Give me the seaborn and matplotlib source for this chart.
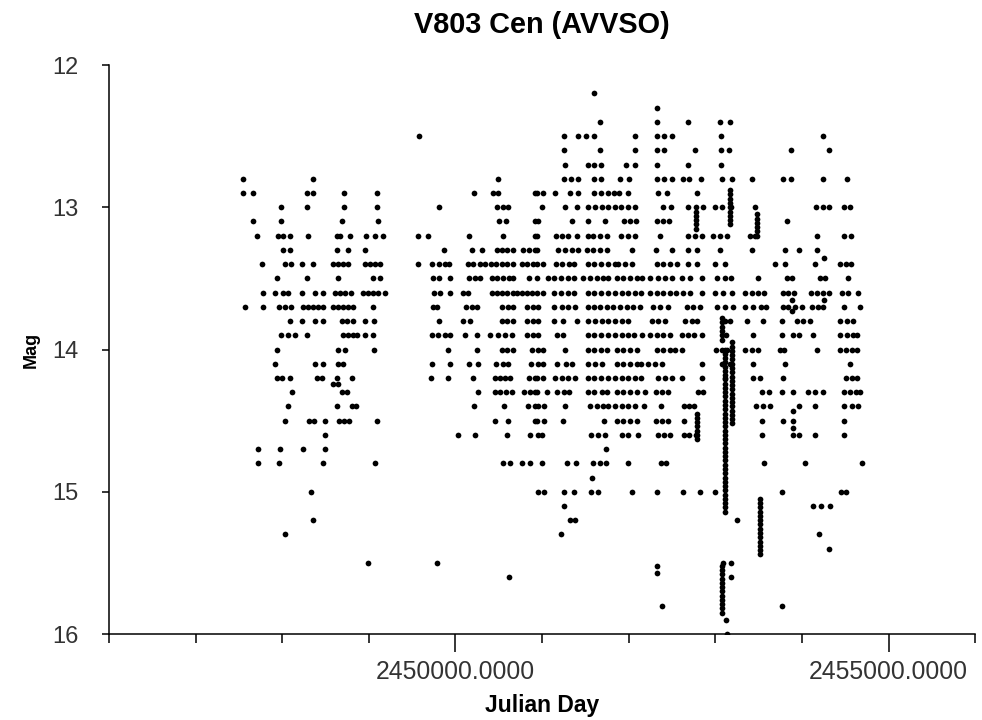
import matplotlib
matplotlib.use("Agg")
import matplotlib.pyplot as plt
from matplotlib.ticker import FixedLocator, MultipleLocator, FuncFormatter
import pandas as pd
import seaborn as sns

# Observation times are kept as reduced Julian Day (JD - 2400000).
RJD_ZERO = 2400000

# Visual estimates, grouped by the reported magnitude (0.1 mag steps).
jd_12_2 = [51600]
jd_12_3 = [52328]
jd_12_4 = [51670, 52328, 52685, 53055, 53171]
jd_12_5 = [49580, 51254, 51415, 51508, 51600, 52074, 52328, 52408, 52501, 53067, 54245]
jd_12_6 = [51254, 51670, 52074, 52328, 52408, 52767, 53067, 53159, 53876, 54314]
jd_12_7 = [51266, 51531, 51600, 51682, 51970, 52074, 52328, 52685, 53067]
jd_12_8 = [47548, 48356, 50491, 51254, 51335, 51415, 51600, 51682, 51901, 52005, 52328, 52408,
           52501, 52628, 52697, 52836, 53078, 53194, 53425, 53783, 53876, 54245, 54522]
jd_12_9 = [47548, 47663, 48286, 48356, 48713, 49095, 50214, 50434, 50491, 50919, 50942, 51012,
           51150, 51323, 51415, 51600, 51682, 51762, 51831, 51889, 51993, 52339, 52443, 52790]
jd_13_0 = [47987, 48286, 48713, 49095, 49811, 50480, 50550, 50607, 51000, 51266, 51404, 51531,
           51612, 51693, 51762, 51843, 51913, 51993, 52074, 52397, 52490, 52685, 52859, 52998,
           53078, 53183, 53460, 54163, 54245, 54314, 54487, 54556]
jd_13_1 = [47663, 47987, 48690, 49106, 50503, 50584, 50919, 50953, 51346, 51531, 51728, 51947,
           52016, 52085, 52328, 52397, 52466, 53829]
jd_13_2 = [47709, 47951, 48010, 48090, 48297, 48633, 48667, 48783, 48967, 49072, 49164, 49568,
           49683, 50157, 50550, 50919, 50942, 51161, 51231, 51300, 51404, 51531, 51589, 51670,
           51751, 51913, 51993, 52074, 52362, 52685, 52767, 52847, 52975, 53055, 53136, 53402,
           53460, 54175, 54487, 54568]
jd_13_3 = [48010, 48090, 48633, 48759, 48956, 49868, 50191, 50307, 50480, 50538, 50596, 50665,
           50781, 50850, 50919, 50942, 51184, 51266, 51346, 51415, 51520, 51589, 51670, 51751,
           52039, 52316, 52501, 52685, 52790, 53055, 53425, 53806, 53968, 54175]
jd_13_4 = [47767, 48033, 48102, 48228, 48356, 48587, 48644, 48702, 48759, 48956, 49014, 49072,
           49129, 49568, 49730, 49811, 49880, 49926, 50145, 50203, 50284, 50342, 50411, 50468,
           50538, 50596, 50665, 50769, 50827, 50896, 50942, 51012, 51161, 51231, 51312, 51369,
           51531, 51600, 51682, 51762, 51843, 51877, 51959, 52039, 52328, 52397, 52478, 52559,
           52685, 52790, 52998, 53113, 53691, 53806, 54152, 54441, 54510, 54568]
jd_13_5 = [47940, 48286, 48644, 49049, 49129, 49742, 49811, 49938, 50157, 50226, 50284, 50422,
           50480, 50550, 50619, 50665, 50850, 50942, 51069, 51138, 51220, 51300, 51369, 51474,
           51554, 51635, 51705, 51762, 51866, 51936, 52016, 52097, 52154, 52247, 52339, 52420,
           52501, 52616, 52709, 52847, 53021, 53113, 53183, 53494, 53829, 53887, 54210, 54268,
           54533]
jd_13_6 = [47779, 47917, 48010, 48067, 48228, 48379, 48471, 48610, 48667, 48725, 48795, 48933,
           48990, 49049, 49106, 49187, 49753, 49822, 49938, 50088, 50145, 50422, 50480, 50538,
           50596, 50665, 50711, 50769, 50827, 50884, 50942, 51012, 51138, 51220, 51300, 51369,
           51531, 51600, 51682, 51762, 51843, 51924, 51993, 52074, 52143, 52247, 52328, 52397,
           52478, 52547, 52628, 52709, 52847, 52998, 53090, 53194, 53344, 53425, 53494, 53563,
           53783, 53840, 53910, 54106, 54175, 54245, 54314, 54464, 54533, 54648]
jd_13_7 = [47571, 47779, 47963, 48033, 48102, 48240, 48297, 48356, 48413, 48471, 48587, 48644,
           48702, 48759, 48818, 49049, 49742, 49788, 50122, 50191, 50249, 50538, 50607, 50665,
           50827, 50896, 50953, 51138, 51231, 51300, 51381, 51531, 51600, 51670, 51751, 51820,
           51901, 51982, 52051, 52131, 52282, 52362, 52454, 52674, 52744, 52824, 53021, 53113,
           53206, 53344, 53437, 53529, 53586, 53783, 53840, 53922, 54002, 54117, 54186, 54245,
           54487, 54672]
jd_13_8 = [48090, 48228, 48379, 48471, 48690, 48748, 48818, 48956, 49060, 49811, 50088, 50168,
           50538, 50596, 50665, 50827, 50896, 50953, 51138, 51243, 51404, 51531, 51612, 51693,
           51762, 51843, 51924, 51993, 52270, 52339, 52420, 52651, 52732, 52790, 53113, 53171,
           53367, 53552, 53771, 53945, 54014, 54094, 54441, 54522, 54591]
jd_13_9 = [47987, 48067, 48148, 48286, 48702, 48759, 48818, 48864, 48956, 49049, 49730, 49799,
           49880, 49938, 50111, 50249, 50399, 50491, 50573, 50653, 50827, 50896, 50953, 51173,
           51243, 51531, 51600, 51682, 51762, 51843, 51924, 51993, 52062, 52154, 52247, 52328,
           52397, 52478, 52616, 52685, 52755, 52847, 53124, 53437, 53771, 53899, 53968, 54129,
           54441, 54522, 54591, 54637]
jd_14_0 = [47940, 48644, 48725, 49060, 49914, 50249, 50538, 50596, 50665, 50884, 50953, 51012,
           51266, 51531, 51600, 51682, 51751, 51866, 51936, 52016, 52097, 52328, 52397, 52478,
           52536, 52616, 53009, 53078, 53136, 53344, 53425, 53494, 53748, 53794, 54175, 54441,
           54510, 54579, 54637]
jd_14_1 = [47917, 48379, 48471, 48644, 48702, 49730, 49938, 50157, 50260, 50468, 50550, 50607,
           50873, 50953, 51012, 51173, 51277, 51346, 51531, 51612, 51693, 51866, 51936, 52016,
           52097, 52143, 52223, 52305, 52385, 52847, 53078, 53171, 53437, 53806, 54556]
jd_14_2 = [47940, 47998, 48090, 48402, 48459, 48633, 48806, 49719, 49914, 50203, 50457, 50515,
           50573, 50630, 50850, 50919, 50942, 51012, 51150, 51231, 51300, 51381, 51531, 51600,
           51682, 51762, 51843, 51924, 51993, 52074, 52143, 52339, 52420, 52501, 52616, 52847,
           53113, 53437, 53517, 53783, 54510, 54579, 54637]
jd_14_3 = [48113, 48690, 48748, 50260, 50457, 50515, 50584, 50653, 50792, 50861, 50919, 50942,
           51058, 51173, 51254, 51312, 51531, 51600, 51693, 51751, 51866, 51936, 52016, 52097,
           52189, 52316, 52385, 52454, 52801, 52859, 53540, 53621, 53771, 53899, 54071, 54152,
           54245, 54487, 54556, 54625, 54672]
jd_14_4 = [48067, 48633, 48806, 48852, 50214, 50561, 50838, 50919, 50953, 51023, 51266, 51554,
           51635, 51705, 51762, 51843, 51924, 51993, 52074, 52177, 52374, 52639, 52697, 52755,
           53471, 53552, 53633, 53968, 54152, 54487, 54579, 54648]
jd_14_5 = [48033, 48309, 48367, 48494, 48656, 48713, 48771, 49095, 50457, 50607, 50919, 50942,
           51023, 51243, 51716, 51866, 51936, 52016, 52097, 52316, 52385, 52454, 52639, 53540,
           53783, 53899, 54487]
jd_14_6 = [48494, 50030, 50226, 50596, 50861, 50953, 51000, 51566, 51646, 51728, 51924, 51993,
           52108, 52339, 52408, 52478, 52639, 52697, 52778, 53540, 53899, 53968, 54152, 54487]
jd_14_7 = [47720, 47975, 48240, 48494, 51739]
jd_14_8 = [47720, 47963, 48471, 49072, 50550, 50630, 50769, 50861, 51000, 51289, 51392, 51589,
           51670, 51739, 51993, 52374, 52431, 53563, 54037, 54695]
jd_14_9 = [51577]
jd_15_0 = [48333, 50953, 51023, 51254, 51369, 51566, 51646, 52039, 52328, 52628, 52824, 52998,
           53771, 54453, 54510]
jd_15_1 = [51254, 54129, 54222, 54325]
jd_15_2 = [48356, 51323, 51381, 53252]
jd_15_3 = [48033, 51220, 54198]
jd_15_4 = [54314]
jd_15_5 = [48990, 49788, 53090, 53183]
jd_15_6 = [50619, 53183]
jd_15_8 = [52385, 53771]
jd_15_9 = [53124]
jd_16_0 = [53136]

# Estimates reported at finer than 0.1 mag.
fine_jd = [54256, 53887, 54256, 53887, 48587, 48644, 53899, 53899, 52328, 52328]
fine_mag = [13.36, 13.65, 13.65, 13.73, 14.24, 14.24, 14.43, 14.55, 15.52, 15.57]

# CCD time series: one night each, many magnitudes.
run_a_jd, run_a_mag = 52778, [13.00, 13.03, 13.06, 13.09, 13.12, 13.15]
run_b_jd, run_b_mag = 53171, [12.88, 12.91, 12.94, 12.97, 13.00, 13.03, 13.06, 13.09, 13.12]
run_c_jd, run_c_mag = 53483, [13.05, 13.08, 13.11, 13.14, 13.17, 13.20]
run_d_jd, run_d_mag = 52790, [14.45, 14.48, 14.51, 14.54, 14.57, 14.60, 14.63]
run_e_jd, run_e_mag = 53078, [13.78, 13.81, 13.84, 13.87, 13.90, 13.93]
run_f_jd, run_f_mag = 53113, [14.00, 14.03, 14.06, 14.09, 14.12, 14.15, 14.18, 14.21, 14.24,
                              14.27, 14.30, 14.33, 14.36, 14.39, 14.42, 14.45, 14.48, 14.51,
                              14.54, 14.57, 14.60, 14.63, 14.66, 14.69, 14.72, 14.75, 14.78,
                              14.81, 14.84, 14.87, 14.90, 14.93, 14.96, 14.99, 15.02, 15.05,
                              15.08, 15.11, 15.14]
run_g_jd, run_g_mag = 53194, [13.95, 13.98, 14.01, 14.04, 14.07, 14.10, 14.13, 14.16, 14.19,
                              14.22, 14.25, 14.28, 14.31, 14.34, 14.37, 14.40, 14.43, 14.46,
                              14.49, 14.52]
run_h_jd, run_h_mag = 53517, [15.05, 15.08, 15.11, 15.14, 15.17, 15.20, 15.23, 15.26, 15.29,
                              15.32, 15.35, 15.38, 15.41, 15.44]
run_i_jd, run_i_mag = 53078, [15.52, 15.55, 15.58, 15.61, 15.64, 15.67, 15.70, 15.73, 15.76,
                              15.79, 15.82, 15.85]

x_major = [2450000, 2455000]

visual = [
    (12.2, jd_12_2), (12.3, jd_12_3), (12.4, jd_12_4), (12.5, jd_12_5), (12.6, jd_12_6),
    (12.7, jd_12_7), (12.8, jd_12_8), (12.9, jd_12_9), (13.0, jd_13_0), (13.1, jd_13_1),
    (13.2, jd_13_2), (13.3, jd_13_3), (13.4, jd_13_4), (13.5, jd_13_5), (13.6, jd_13_6),
    (13.7, jd_13_7), (13.8, jd_13_8), (13.9, jd_13_9), (14.0, jd_14_0), (14.1, jd_14_1),
    (14.2, jd_14_2), (14.3, jd_14_3), (14.4, jd_14_4), (14.5, jd_14_5), (14.6, jd_14_6),
    (14.7, jd_14_7), (14.8, jd_14_8), (14.9, jd_14_9), (15.0, jd_15_0), (15.1, jd_15_1),
    (15.2, jd_15_2), (15.3, jd_15_3), (15.4, jd_15_4), (15.5, jd_15_5), (15.6, jd_15_6),
    (15.8, jd_15_8), (15.9, jd_15_9), (16.0, jd_16_0),
]
runs = [
    (run_a_jd, run_a_mag), (run_b_jd, run_b_mag), (run_c_jd, run_c_mag),
    (run_d_jd, run_d_mag), (run_e_jd, run_e_mag), (run_f_jd, run_f_mag),
    (run_g_jd, run_g_mag), (run_h_jd, run_h_mag), (run_i_jd, run_i_mag),
]

records = []
for mag, days in visual:
    records += [(d + RJD_ZERO, mag) for d in days]
records += [(d + RJD_ZERO, m) for d, m in zip(fine_jd, fine_mag)]
for d, mags in runs:
    records += [(d + RJD_ZERO, m) for m in mags]
obs = pd.DataFrame(records, columns=["Julian Day", "Mag"])

sns.set_theme(style="white")
plt.rcParams["font.family"] = ["Liberation Sans", "DejaVu Sans"]

fig, ax = plt.subplots(figsize=(9.82, 7.2), dpi=100)
fig.subplots_adjust(left=0.111, right=0.993, bottom=0.1194, top=0.9097)

sns.scatterplot(data=obs, x="Julian Day", y="Mag", color="black", s=17,
                linewidth=0, ax=ax, legend=False)

ax.set_xlim(2446000, 2456000)
ax.set_ylim(16, 12)
ax.xaxis.set_major_locator(FixedLocator(x_major))
ax.xaxis.set_minor_locator(MultipleLocator(1000))
ax.xaxis.set_major_formatter(FuncFormatter(lambda v, p: f"{v:.4f}"))
ax.yaxis.set_major_locator(MultipleLocator(1))
ax.yaxis.set_major_formatter(FuncFormatter(lambda v, p: f"{v:.0f}"))

for side in ("top", "right"):
    ax.spines[side].set_visible(False)
for side in ("left", "bottom"):
    ax.spines[side].set_color("black")
    ax.spines[side].set_linewidth(1.1)

ax.tick_params(axis="x", which="both", bottom=True)
ax.tick_params(axis="y", which="both", left=True)
ax.tick_params(axis="x", which="major", direction="out", length=13, width=1.1,
               color="black", labelsize=17.8, labelcolor="#333333", pad=6)
ax.tick_params(axis="x", which="minor", direction="out", length=6.5, width=1.1,
               color="black")
ax.tick_params(axis="y", which="major", direction="out", length=5, width=1.1,
               color="black", labelsize=17, labelcolor="#333333", pad=17)

ax.set_xlabel("Julian Day", fontsize=16.5, fontweight="bold", color="black", labelpad=7)
ax.set_ylabel("Mag", fontsize=13, fontweight="bold", color="black", labelpad=9)
ax.set_title("V803 Cen (AVVSO)", fontsize=20.8, fontweight="bold", color="black", pad=23)

fig.savefig("out.png", dpi=100)
